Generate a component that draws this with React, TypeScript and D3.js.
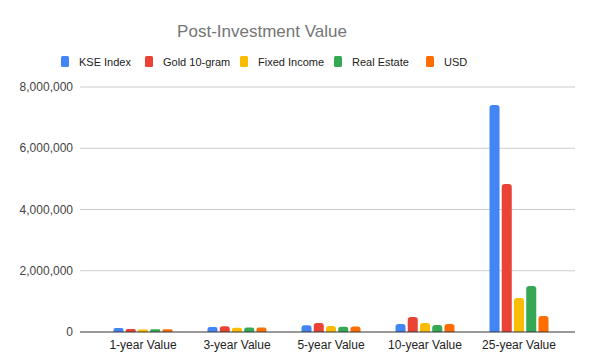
import React, {useEffect, useRef} from 'react';
import * as d3 from 'd3';

const categories = ['1-year Value', '3-year Value', '5-year Value', '10-year Value', '25-year Value'];
const seriesNames = ['KSE Index', 'Gold 10-gram', 'Fixed Income', 'Real Estate', 'USD'];
const kse = [130000, 160000, 220000, 260000, 7410000];
const gold = [100000, 190000, 290000, 490000, 4830000];
const fixedIncome = [80000, 140000, 200000, 290000, 1110000];
const realEstate = [90000, 150000, 170000, 230000, 1500000];
const usd = [90000, 150000, 180000, 260000, 520000];
const yTicks = [0, 2000000, 4000000, 6000000, 8000000];
const colors = ['#4285F4', '#EA4335', '#FBBC04', '#34A853', '#FF6D01'];

const W = 600, H = 363;
const margin = {top: 87, right: 34, bottom: 31, left: 96};

export default function App() {
  const ref = useRef<SVGSVGElement>(null);

  useEffect(() => {
    if (!ref.current) return;
    const svg = d3.select(ref.current);
    svg.selectAll('*').remove();
    const values = [kse, gold, fixedIncome, realEstate, usd];
    const font = 'Arial, "Liberation Sans", sans-serif';

    const x = d3.scaleBand().domain(categories).range([margin.left, W - margin.right]);
    const x1 = d3.scaleBand().domain(seriesNames).range([0, 59]).paddingInner(0.18);
    const y = d3.scaleLinear().domain([0, 8000000]).range([H - margin.bottom, margin.top]);

    // title
    svg.append('text')
      .attr('x', 262).attr('y', 37)
      .attr('text-anchor', 'middle')
      .attr('font-family', font).attr('font-size', 17)
      .attr('fill', '#757575')
      .text('Post-Investment Value');

    // legend
    const legendX = [61, 145, 240, 334, 426];
    seriesNames.forEach((s, i) => {
      const g = svg.append('g').attr('transform', `translate(${legendX[i]},56)`);
      g.append('rect').attr('width', 8).attr('height', 11).attr('rx', 1.5).attr('fill', colors[i]);
      g.append('text').attr('x', 18).attr('y', 10)
        .attr('font-family', font).attr('font-size', 11).attr('fill', '#222')
        .text(s);
    });

    // grid + y labels
    svg.append('g').selectAll('line').data(yTicks.slice(1)).enter().append('line')
      .attr('x1', 80).attr('x2', 575)
      .attr('y1', d => y(d)).attr('y2', d => y(d))
      .attr('stroke', '#cccccc').attr('stroke-width', 1);
    svg.append('g').selectAll('text').data(yTicks).enter().append('text')
      .attr('x', 73).attr('y', d => y(d) + 4)
      .attr('text-anchor', 'end')
      .attr('font-family', font).attr('font-size', 12).attr('fill', '#444')
      .text(d => d3.format(',')(d));

    // bars
    categories.forEach((c, ci) => {
      const gx = x(c)! + x.bandwidth() / 2 - 29.5;
      values.forEach((vals, si) => {
        const bx = gx + x1(seriesNames[si])!;
        const bw = x1.bandwidth();
        const top = y(vals[ci]);
        const base = y(0);
        const r = Math.min(3, (base - top) / 2);
        svg.append('path')
          .attr('d', `M${bx},${base}V${top + r}Q${bx},${top} ${bx + r},${top}H${bx + bw - r}Q${bx + bw},${top} ${bx + bw},${top + r}V${base}Z`)
          .attr('fill', colors[si]);
      });
    });

    // baseline
    svg.append('line')
      .attr('x1', 80).attr('x2', 575)
      .attr('y1', y(0)).attr('y2', y(0))
      .attr('stroke', '#333').attr('stroke-width', 1);

    // x labels
    svg.append('g').selectAll('text').data(categories).enter().append('text')
      .attr('x', d => x(d)! + x.bandwidth() / 2)
      .attr('y', 349)
      .attr('text-anchor', 'middle')
      .attr('font-family', font).attr('font-size', 12).attr('fill', '#222')
      .text(d => d);
  }, []);

  return (
    <svg ref={ref} width={W} height={H} style={{position: 'absolute', left: 0, top: 0, background: '#fff'}} />
  );
}
